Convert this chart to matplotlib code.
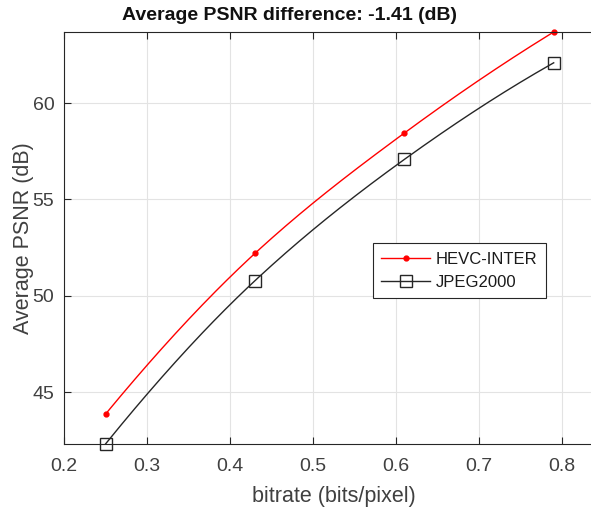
import numpy as np
from matplotlib import pyplot as plt

# data
bitrate = [0.25, 0.43, 0.61, 0.79]
psnr_hevc = [43.85, 52.2, 58.45, 63.7]
psnr_jpeg = [42.3, 50.78, 57.08, 62.1]
x_ticks = [0.2, 0.3, 0.4, 0.5, 0.6, 0.7, 0.8]
y_ticks = [45, 50, 55, 60]


def pchip(x, y, xs):
    """Shape-preserving cubic (like MATLAB pchip), only used to draw the curve."""
    x, y = np.asarray(x, float), np.asarray(y, float)
    h = np.diff(x)
    d = np.diff(y) / h
    m = np.zeros_like(y)
    for k in range(1, len(x) - 1):
        if d[k - 1] * d[k] > 0:
            w1 = 2 * h[k] + h[k - 1]
            w2 = h[k] + 2 * h[k - 1]
            m[k] = (w1 + w2) / (w1 / d[k - 1] + w2 / d[k])
    m[0] = ((2 * h[0] + h[1]) * d[0] - h[0] * d[1]) / (h[0] + h[1])
    m[-1] = ((2 * h[-1] + h[-2]) * d[-1] - h[-1] * d[-2]) / (h[-1] + h[-2])
    idx = np.clip(np.searchsorted(x, xs) - 1, 0, len(h) - 1)
    t = (xs - x[idx]) / h[idx]
    h00 = 2 * t**3 - 3 * t**2 + 1
    h10 = t**3 - 2 * t**2 + t
    h01 = -2 * t**3 + 3 * t**2
    h11 = t**3 - t**2
    return h00 * y[idx] + h10 * h[idx] * m[idx] + h01 * y[idx + 1] + h11 * h[idx] * m[idx + 1]


plt.rcParams['font.family'] = ['Liberation Sans', 'DejaVu Sans']

fig = plt.figure(figsize=(5.91, 5.08), dpi=100)
ax = fig.add_axes([64 / 591, 64 / 508, 539.5 / 591, 412 / 508])

xs = np.linspace(bitrate[0], bitrate[-1], 200)
ax.plot(xs, pchip(bitrate, psnr_hevc, xs), color='#ff0000', lw=1.0)
ax.plot(xs, pchip(bitrate, psnr_jpeg, xs), color='#262626', lw=1.0)
ax.plot(bitrate, psnr_hevc, ls='none', marker='.', ms=7, color='#ff0000', clip_on=False)
ax.plot(bitrate, psnr_jpeg, ls='none', marker='s', ms=8, mfc='none',
        mec='#262626', mew=1.0, clip_on=False)

# legend proxies
h1, = ax.plot([], [], color='#ff0000', marker='.', ms=7, lw=1.0, label='HEVC-INTER')
h2, = ax.plot([], [], color='#262626', marker='s', ms=8, mfc='none', lw=1.0, label='JPEG2000')
leg = ax.legend(handles=[h1, h2], loc='upper left', bbox_to_anchor=(0.573, 0.487),
                borderaxespad=0, fancybox=False, framealpha=1, edgecolor='#262626',
                fontsize=12, handlelength=2.9, handletextpad=0.35, borderpad=0.5,
                labelspacing=0.5)
leg.get_frame().set_linewidth(0.8)
for t in leg.get_texts():
    t.set_color('#1a1a1a')

ax.set_xlim(0.2, 0.85)
ax.set_ylim(42.3, 63.7)
ax.set_xticks(x_ticks)
ax.set_yticks(y_ticks)
ax.set_xticklabels(['0.2', '0.3', '0.4', '0.5', '0.6', '0.7', '0.8'])
ax.grid(True, color='#e3e3e3', lw=0.8)
ax.set_axisbelow(True)
ax.tick_params(direction='in', length=5, width=0.8, colors='#262626',
               labelcolor='#404040', labelsize=14, top=True, right=False, pad=7)
ax.tick_params(axis='x', pad=10)
for s in ax.spines.values():
    s.set_color('#262626')
    s.set_linewidth(0.8)
ax.spines['right'].set_visible(False)

ax.set_xlabel('bitrate (bits/pixel)', fontsize=15.5, color='#404040', labelpad=8)
ax.set_ylabel('Average PSNR (dB)', fontsize=15.5, color='#404040', labelpad=-1)
fig.text(290 / 591, 1 - 16 / 508, 'Average PSNR difference: -1.41 (dB)',
         ha='center', va='center', fontsize=14, fontweight='bold', color='#111111')

fig.savefig('out.png', dpi=100)
